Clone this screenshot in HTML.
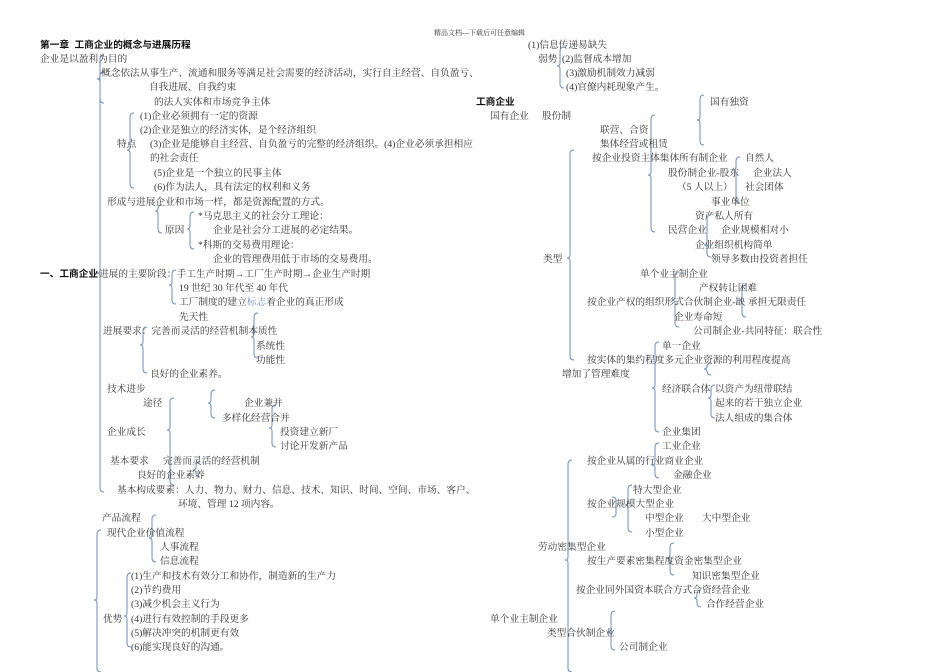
<!DOCTYPE html>
<html><head><meta charset="utf-8"><style>
html,body{margin:0;padding:0;background:#fff;}
#c{position:relative;width:950px;height:672px;overflow:hidden;font-family:"Liberation Serif","Noto Serif CJK SC","Noto Sans CJK SC",serif;font-size:9.7px;color:#333;}
#c div{position:absolute;white-space:nowrap;line-height:14px;margin-top:2px;}
.b{font-weight:bold;color:#111;font-family:"Liberation Sans","Noto Sans CJK SC",sans-serif;}
svg{position:absolute;left:0;top:0;}
</style></head><body><div id="c">
<svg width="950" height="672" fill="none" stroke="#6b8fbf" stroke-width="1">
<path id="p" d=""/>
</svg>
<div style="left:434px;top:24px;font-size:7px;">精品文档---下载后可任意编辑</div>

<div class="b" style="left:40px;top:37px;">第一章&nbsp;&nbsp;工商企业的概念与进展历程</div>
<div style="left:40px;top:51px;">企业是以盈利为目的</div>
<div style="left:101px;top:65px;">概念依法从事生产、流通和服务等满足社会需要的经济活动，实行自主经营、自负盈亏、</div>
<div style="left:149px;top:79px;">自我进展、自我约束</div>
<div style="left:154px;top:94px;">的法人实体和市场竞争主体</div>
<div style="left:140px;top:108px;">(1)企业必须拥有一定的资源</div>
<div style="left:140px;top:122px;">(2)企业是独立的经济实体，是个经济组织</div>
<div style="left:117px;top:136px;">特点</div>
<div style="left:150px;top:136px;">(3)企业是能够自主经营、自负盈亏的完整的经济组织。(4)企业必须承担相应</div>
<div style="left:150px;top:150px;">的社会责任</div>
<div style="left:154px;top:165px;">(5)企业是一个独立的民事主体</div>
<div style="left:154px;top:179px;">(6)作为法人，具有法定的权利和义务</div>
<div style="left:107px;top:194px;">形成与进展企业和市场一样，都是资源配置的方式。</div>
<div style="left:198px;top:208px;">*马克思主义的社会分工理论：</div>
<div style="left:165px;top:222px;">原因</div>
<div style="left:213px;top:222px;">企业是社会分工进展的必定结果。</div>
<div style="left:198px;top:237px;">*科斯的交易费用理论：</div>
<div style="left:213px;top:251px;">企业的管理费用低于市场的交易费用。</div>
<div class="b" style="left:40px;top:266px;">一、工商企业</div>
<div style="left:99px;top:266px;">进展的主要阶段：手工生产时期→工厂生产时期→企业生产时期</div>
<div style="left:179px;top:280px;">19 世纪 30 年代至 40 年代</div>
<div style="left:179px;top:294px;">工厂制度的建立<span style="color:#6b8fbf">标志</span>着企业的真正形成</div>
<div style="left:179px;top:309px;">先天性</div>
<div style="left:103px;top:323px;">进展要求：完善而灵活的经营机制本质性</div>
<div style="left:256px;top:338px;">系统性</div>
<div style="left:256px;top:352px;">功能性</div>
<div style="left:150px;top:366px;">良好的企业素养。</div>
<div style="left:107px;top:381px;">技术进步</div>
<div style="left:143px;top:395px;">途径</div>
<div style="left:244px;top:395px;">企业兼并</div>
<div style="left:222px;top:410px;">多样化经营合并</div>
<div style="left:107px;top:424px;">企业成长</div>
<div style="left:280px;top:424px;">投资建立新厂</div>
<div style="left:280px;top:438px;">讨论开发新产品</div>
<div style="left:110px;top:453px;">基本要求</div>
<div style="left:163px;top:453px;">完善而灵活的经营机制</div>
<div style="left:137px;top:467px;">良好的企业素养</div>
<div style="left:117px;top:482px;">基本构成要素：人力、物力、财力、信息、技术、知识、时间、空间、市场、客户、</div>
<div style="left:178px;top:496px;">环境、管理 12 项内容。</div>
<div style="left:102px;top:510px;">产品流程</div>
<div style="left:107px;top:525px;">现代企业价值流程</div>
<div style="left:160px;top:539px;">人事流程</div>
<div style="left:160px;top:553px;">信息流程</div>
<div style="left:131px;top:568px;">(1)生产和技术有效分工和协作，制造新的生产力</div>
<div style="left:131px;top:582px;">(2)节约费用</div>
<div style="left:131px;top:596px;">(3)减少机会主义行为</div>
<div style="left:103px;top:611px;">优势</div>
<div style="left:131px;top:611px;">(4)进行有效控制的手段更多</div>
<div style="left:131px;top:625px;">(5)解决冲突的机制更有效</div>
<div style="left:131px;top:639px;">(6)能实现良好的沟通。</div>

<div style="left:528px;top:37px;">(1)信息传递易缺失</div>
<div style="left:538px;top:51px;">弱势</div>
<div style="left:562px;top:51px;">(2)监督成本增加</div>
<div style="left:566px;top:65px;">(3)激励机制效力减弱</div>
<div style="left:566px;top:79px;">(4)官僚内耗现象产生。</div>
<div class="b" style="left:476px;top:94px;">工商企业</div>
<div style="left:710px;top:94px;">国有独资</div>
<div style="left:490px;top:108px;">国有企业</div>
<div style="left:542px;top:108px;">股份制</div>
<div style="left:600px;top:122px;">联营、合资</div>
<div style="left:600px;top:136px;">集体经营或租赁</div>
<div style="left:592px;top:150px;">按企业投资主体集体所有制企业</div>
<div style="left:745px;top:150px;">自然人</div>
<div style="left:668px;top:165px;">股份制企业-股东</div>
<div style="left:753px;top:165px;">企业法人</div>
<div style="left:677px;top:179px;">（5 人以上）</div>
<div style="left:745px;top:179px;">社会团体</div>
<div style="left:711px;top:194px;">事业单位</div>
<div style="left:695px;top:208px;">资产私人所有</div>
<div style="left:668px;top:222px;">民营企业</div>
<div style="left:721px;top:222px;">企业规模相对小</div>
<div style="left:695px;top:237px;">企业组织机构简单</div>
<div style="left:543px;top:251px;">类型</div>
<div style="left:711px;top:251px;">领导多数由投资者担任</div>
<div style="left:640px;top:266px;">单个业主制企业</div>
<div style="left:699px;top:280px;">产权转让困难</div>
<div style="left:587px;top:294px;">按企业产权的组织形式合伙制企业-缺</div>
<div style="left:748px;top:294px;">承担无限责任</div>
<div style="left:674px;top:309px;">企业寿命短</div>
<div style="left:693px;top:323px;">公司制企业-共同特征：联合性</div>
<div style="left:662px;top:338px;">单一企业</div>
<div style="left:587px;top:352px;">按实体的集约程度多元企业资源的利用程度提高</div>
<div style="left:562px;top:366px;">增加了管理难度</div>
<div style="left:662px;top:381px;">经济联合体</div>
<div style="left:715px;top:381px;">以资产为纽带联结</div>
<div style="left:715px;top:395px;">起来的若干独立企业</div>
<div style="left:715px;top:410px;">法人组成的集合体</div>
<div style="left:662px;top:424px;">企业集团</div>
<div style="left:662px;top:438px;">工业企业</div>
<div style="left:587px;top:453px;">按企业从属的行业商业企业</div>
<div style="left:673px;top:467px;">金融企业</div>
<div style="left:633px;top:482px;">特大型企业</div>
<div style="left:587px;top:496px;">按企业规模大型企业</div>
<div style="left:645px;top:510px;">中型企业</div>
<div style="left:702px;top:510px;">大中型企业</div>
<div style="left:645px;top:525px;">小型企业</div>
<div style="left:538px;top:539px;">劳动密集型企业</div>
<div style="left:587px;top:553px;">按生产要素密集程度资金密集型企业</div>
<div style="left:692px;top:568px;">知识密集型企业</div>
<div style="left:576px;top:582px;">按企业同外国资本联合方式合资经营企业</div>
<div style="left:706px;top:596px;">合作经营企业</div>
<div style="left:490px;top:611px;">单个业主制企业</div>
<div style="left:547px;top:625px;">类型合伙制企业</div>
<div style="left:619px;top:639px;">公司制企业</div>
</div>
<script>
var B=[[100,55,103,79],[100,72,492,273],[130,113,188,150],[158,205,233,211],[190,212,249,229],[172,270,304,285],[143,327,373,345],[254,313,358,337],[211,390,418,403],[170,398,485,430],[272,405,447,428],[196,462,477,470],[97,530,672,600],[152,515,562,538],[127,573,647,616],
[560,47,88,66],[700,95,145,120],[570,150,360,258],[651,115,232,175],[736,157,203,170],[707,215,257,245],[675,272,327,300],[742,285,317,300],[655,342,432,388],[707,363,375,369],[711,385,418,398],[655,443,478,465],[568,460,672,560],[628,485,532,505],[670,543,575,558],[697,590,607,598],[611,611,650,632]];
var d="";B.forEach(function(b){var x=b[0],a=b[1],e=b[2],m=b[3];d+="M"+(x+4)+" "+a+"Q"+x+" "+a+" "+x+" "+(a+4)+"L"+x+" "+(m-3)+"Q"+x+" "+m+" "+(x-3)+" "+m+"Q"+x+" "+m+" "+x+" "+(m+3)+"L"+x+" "+(e-4)+"Q"+x+" "+e+" "+(x+4)+" "+e;});
d+="M612 497Q616 497 616 500L616 514Q616 517 612 517";
document.getElementById("p").setAttribute("d",d);
</script>
</body></html>
